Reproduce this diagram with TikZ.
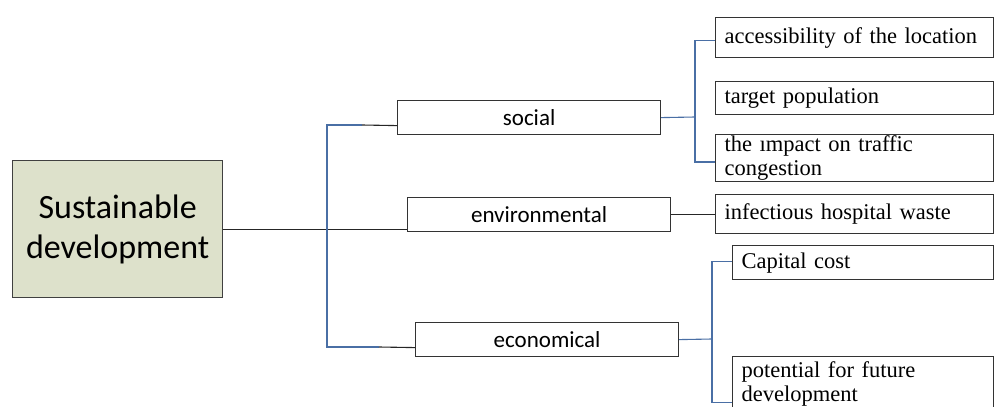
\documentclass[tikz,border=0pt]{standalone}
\usepackage{fontspec}
\setmainfont{Liberation Serif}
\newfontfamily\calib{Carlito}
\usetikzlibrary{positioning}

\begin{document}
\begin{tikzpicture}[x=1pt, y=-1pt,
    rootbox/.style={draw=black!75, line width=1.3pt, fill=rootfill, minimum width=210pt, minimum height=137pt, inner sep=0pt, align=center, font=\calib\fontsize{34}{40}\selectfont},
    aspectbox/.style={draw=black!80, line width=1.2pt, minimum width=263pt, minimum height=34pt, inner sep=0pt, font=\calib\fontsize{23}{26}\selectfont},
    leafbox/.style={draw=black!80, line width=1.2pt, minimum width=#1, inner xsep=9pt, inner ysep=1pt, align=left, font=\fontsize{22.5}{24}\selectfont},
    blueline/.style={draw=linkblue, line width=1.1pt},
    blackline/.style={draw=black!85, line width=1.1pt}]
    \definecolor{rootfill}{HTML}{DDE1CB}
    \definecolor{linkblue}{HTML}{4A6FA5}
    \useasboundingbox (0,0) rectangle (994,407);

    % root
    \node[rootbox, anchor=north west] (root) at (12,160) {Sustainable\\development};

    % three aspects
    \node[aspectbox, anchor=north west] (social) at (397,100) {social};
    \node[aspectbox, anchor=north west] (env) at (407,197) {environmental};
    \node[aspectbox, anchor=north west] (econ) at (415,322) {economical};

    % criteria
    \node[leafbox=278pt, anchor=north west, minimum height=40pt, text width=260pt] (access) at (715,17) {accessibility of the location};
    \node[leafbox=278pt, anchor=north west, minimum height=33pt, text width=260pt] (target) at (715,81) {target population};
    \node[leafbox=278pt, anchor=north west, minimum height=44pt, text width=260pt] (impact) at (715,134) {the ımpact on traffic\\congestion};
    \node[leafbox=278pt, anchor=north west, minimum height=39pt, text width=260pt] (waste) at (715,194) {infectious hospital waste};
    \node[leafbox=261pt, anchor=north west, minimum height=34pt, text width=243pt] (capital) at (732,245) {Capital cost};
    \node[leafbox=261pt, anchor=north west, minimum height=54pt, text width=243pt] (future) at (732,356) {potential for future\\development};

    % trunk
    \coordinate (trunk) at (327,228.5);
    \coordinate (socstub) at (362,125);
    \coordinate (econstub) at (379,347);
    \draw[blackline] (root.east) -- (root.east -| env.west);
    \draw[blueline] (socstub) -| (trunk |- econstub) -- (econstub);
    \draw[blackline] (socstub) -- ([yshift=-8pt]social.west);
    \draw[blackline] (econstub) -- ([yshift=-8pt]econ.west);

    % branches to criteria
    \coordinate (socfork) at (695,117);
    \coordinate (econfork) at (712,339);
    \draw[blueline] (social.east) -- (socfork);
    \draw[blueline] ([yshift=-3pt]access.west) -| (socfork) |- ([yshift=-4pt]impact.west);
    \draw[blackline] (env.east) -- (env.east -| waste.west);
    \draw[blueline] (econ.east) -- (econfork);
    \draw[blueline] ([yshift=1pt]capital.west) -| (econfork) |- ([yshift=-19pt]future.west);
\end{tikzpicture}
\end{document}
